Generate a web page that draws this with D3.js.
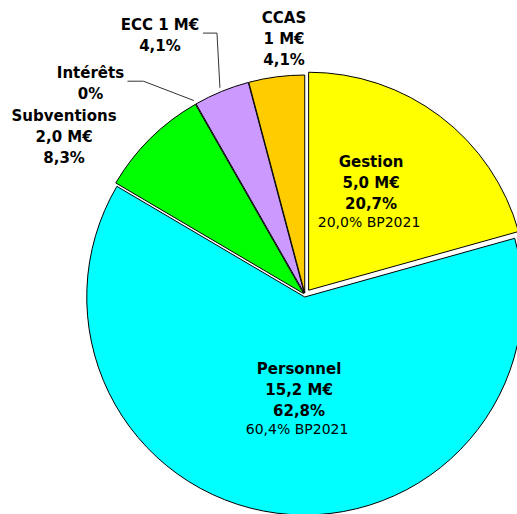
<!DOCTYPE html>
<html>
<head>
<meta charset="utf-8">
<script src="https://cdn.jsdelivr.net/npm/d3@7"></script>
<style>
  body { margin: 0; background: #fff; }
  svg { display: block; }
</style>
</head>
<body>
<script>
// values in M€, clockwise from 12 o'clock
var categories = ['Gestion', 'Personnel', 'Subventions', 'Intérêts', 'ECC', 'CCAS'];
var values = [5.0, 15.2, 2.0, 0, 1.0, 1.0];
var amounts = ['5,0 M€', '15,2 M€', '2,0 M€', '', '1 M€', '1 M€'];
var percents = ['20,7%', '62,8%', '8,3%', '0%', '4,1%', '4,1%'];
var bp2021 = ['20,0% BP2021', '60,4% BP2021', '', '', '', ''];
var colors = ['#ffff00', '#00ffff', '#00ff00', '#ff8080', '#cc99ff', '#ffcc00'];

var width = 517, height = 514;
var cx = 305, cy = 295, radius = 218;

var svg = d3.select('body').append('svg')
    .attr('width', width)
    .attr('height', height);

var pie = d3.pie().sort(null).value(function(d) { return d; });
var arcs = pie(values);

var arc = d3.arc().innerRadius(0).outerRadius(radius);

function polar(angle, r) {
    return [cx + r * Math.sin(angle), cy - r * Math.cos(angle)];
}
function mid(d) { return (d.startAngle + d.endAngle) / 2; }

// small explosion for every slice, bigger for Gestion
var explode = [6, 2, 2, 2, 2, 2];

var g = svg.append('g');

g.selectAll('path')
    .data(arcs)
    .enter().append('path')
    .filter(function(d) { return d.value > 0; })
    .attr('transform', function(d, i) {
        var k = explode[d.index], a = mid(d);
        return 'translate(' + (cx + k * Math.sin(a)) + ',' + (cy - k * Math.cos(a)) + ')';
    })
    .attr('d', arc)
    .attr('fill', function(d) { return colors[d.index]; })
    .attr('stroke', 'black')
    .attr('stroke-width', 1);

// label placement: [angle in degrees, distance from centre] of the first line
var labelPlace = [[27.3, 144], [184.3, 79], [305.8, 297], [315.3, 305], [331.3, 302], [355.6, 273]];

var lines = [
    ['Gestion', amounts[0], percents[0]],
    ['Personnel', amounts[1], percents[1]],
    ['Subventions', amounts[2], percents[2]],
    ['Intérêts', percents[3]],
    ['ECC ' + amounts[4], percents[4]],
    ['CCAS', amounts[5], percents[5]]
];

lines.forEach(function(ls, i) {
    var p = polar(labelPlace[i][0] * Math.PI / 180, labelPlace[i][1]);
    var t = svg.append('text')
        .attr('x', p[0])
        .attr('y', p[1])
        .attr('text-anchor', 'middle')
        .attr('font-family', 'DejaVu Sans, Verdana, sans-serif')
        .attr('font-size', 15)
        .attr('font-weight', 'bold')
        .attr('fill', 'black');
    ls.forEach(function(s, j) {
        t.append('tspan').attr('x', p[0]).attr('dy', j === 0 ? 0 : 21).text(s);
    });
    if (bp2021[i]) {
        svg.append('text')
            .attr('x', p[0] - 2)
            .attr('y', p[1] + ls.length * 21 - 3)
            .attr('text-anchor', 'middle')
            .attr('font-family', 'DejaVu Sans, Verdana, sans-serif')
            .attr('font-size', 14)
            .attr('fill', 'black')
            .text(bp2021[i]);
    }
});

// leader lines for ECC and Intérêts
var leaders = [[4, 43, 3, 57], [3, 37, 3, 53]];
leaders.forEach(function(l) {
    var i = l[0];
    var p = polar(labelPlace[i][0] * Math.PI / 180, labelPlace[i][1]);
    var e = polar(mid(arcs[i]), radius + 6);
    svg.append('polyline')
        .attr('points', [[p[0] + l[1], p[1] + l[2]], [p[0] + l[3], p[1] + l[2]], e].join(' '))
        .attr('fill', 'none')
        .attr('stroke', '#333')
        .attr('stroke-width', 1);
});
</script>
</body>
</html>
